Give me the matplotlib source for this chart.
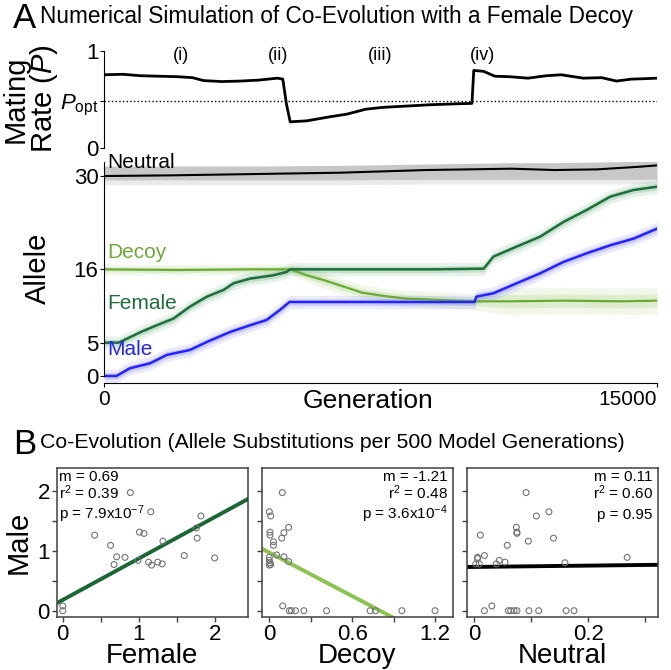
import matplotlib.pyplot as plt
import numpy as np

plt.rcParams['font.family'] = ['Liberation Sans', 'DejaVu Sans']
plt.rcParams['mathtext.fontset'] = 'custom'
plt.rcParams['mathtext.rm'] = 'Liberation Sans'
plt.rcParams['mathtext.it'] = 'Liberation Sans:italic'

# ---- panel A, mating rate ----
mate_gen = [0, 500, 1000, 1500, 2000, 2400, 2700, 3200, 3700, 4200, 4700, 4850, 4950, 5050,
            5500, 6100, 6600, 7100, 7600, 8100, 8800, 9500, 9980, 10030, 10300, 10600, 11000,
            11500, 12000, 12400, 13000, 13500, 13900, 14300, 14700, 15000]
mate = [0.755, 0.76, 0.745, 0.74, 0.735, 0.725, 0.695, 0.685, 0.69, 0.70, 0.72, 0.71, 0.45, 0.27,
        0.28, 0.32, 0.35, 0.40, 0.42, 0.43, 0.445, 0.455, 0.46, 0.80, 0.79, 0.74, 0.735,
        0.72, 0.745, 0.755, 0.72, 0.725, 0.69, 0.71, 0.715, 0.72]
popt = 0.48
phase_gen = [2100, 4720, 7480, 10280]
phase_lab = ['(i)', '(ii)', '(iii)', '(iv)']

# ---- panel A, alleles ----
female_gen = [0, 400, 1000, 1430, 1880, 2330, 2790, 3240, 3510, 3960, 4590, 4950, 5050, 7000,
              9000, 10300, 10560, 11190, 11830, 12460, 13090, 13730, 14360, 15000]
female = [5.0, 5.0, 6.6, 7.6, 8.6, 10.4, 11.9, 12.9, 13.9, 14.6, 15.1, 15.6, 16.0, 16.0,
          16.0, 16.1, 17.9, 19.4, 20.9, 23.1, 24.9, 26.9, 27.9, 28.4]

male_gen = [0, 340, 700, 1250, 1700, 2330, 2790, 3420, 3960, 4410, 4770, 5030, 7000, 10050,
            10100, 10560, 11190, 11830, 12460, 13090, 13730, 14360, 15000]
male = [0.0, 0.0, 1.15, 1.9, 3.15, 3.9, 5.1, 6.6, 7.6, 8.4, 9.9, 11.1, 11.1, 11.1,
        11.9, 12.4, 13.9, 15.4, 17.1, 18.4, 19.6, 20.6, 22.1]

decoy_gen = [0, 2000, 4000, 5050, 5500, 5950, 6400, 7000, 7600, 8200, 8750, 9900, 11000,
             12500, 14000, 15000]
decoy = [16.0, 15.9, 16.0, 16.0, 15.1, 14.4, 13.6, 12.5, 12.0, 11.6, 11.5, 11.2, 11.2,
         11.3, 11.2, 11.3]
decoy_spread = [0.8, 0.8, 0.8, 0.8, 1.0, 1.2, 1.2, 1.2, 1.2, 1.2, 1.2, 1.2, 2.0, 2.0, 2.0, 2.0]

neutral_gen = [0, 1800, 4100, 6400, 8750, 9900, 11060, 12220, 13380, 14540, 15000]
neutral = [30.0, 30.1, 30.3, 30.5, 30.9, 31.0, 31.1, 30.9, 31.0, 31.4, 31.6]
neutral_lo = [29.4, 29.4, 29.4, 29.4, 29.5, 29.5, 29.5, 29.5, 29.5, 29.5, 29.5]
neutral_hi = [31.5, 31.5, 31.5, 31.6, 31.8, 31.9, 32.0, 32.0, 32.1, 32.2, 32.2]

# ---- panel B, substitutions per 500 generations ----
fem_x = [0, 0, 0.42, 0.63, 0.675, 0.71, 0.82, 0.89, 0.99, 1.01, 1.07, 1.13, 1.17, 1.16,
         1.25, 1.31, 1.32, 1.60, 1.76, 1.77, 1.82, 2.0]
fem_y = [0.08, 0, 1.26, 1.09, 0.77, 0.90, 0.89, 1.97, 0.84, 1.31, 1.29, 0.81, 0.76, 1.65,
         0.81, 0.78, 1.16, 0.92, 1.38, 1.21, 1.58, 0.88]

dec_x = [0.094, 0, 0.01, 0.14, 0.005, 0.005, 0.106, 0.09, 0.03, 0.03, 0.053, 0.106, 0.14,
         0, 0, 0.005, 0.01, 0, 0.097, 0.145, 0.16, 0.19, 0.25, 0.415, 0.73, 0.77, 0.96, 1.20]
dec_y = [1.97, 1.65, 1.58, 1.39, 1.31, 1.26, 1.30, 1.21, 1.15, 1.09, 0.93, 0.90, 0.82,
         0.89, 0.84, 0.80, 0.77, 0.76, 0.08, 0, 0, 0, 0, 0, 0, 0, 0, 0]

neu_x = [0.091, 0.131, 0.109, 0.074, 0.075, 0.075, 0.011, 0.139, 0.095, 0.058, 0.018, 0.006,
         0.006, 0.044, 0.054, 0.039, 0.003, 0.009, 0.159, 0.268, 0.031, 0.018, 0.06, 0.064,
         0.07, 0.075, 0.096, 0.113, 0.161, 0.175]
neu_y = [1.97, 1.65, 1.58, 1.39, 1.31, 1.29, 1.26, 1.21, 1.16, 1.09, 0.92, 0.89, 0.87,
         0.84, 0.81, 0.78, 0.78, 0.78, 0.80, 0.89, 0.08, 0, 0, 0, 0, 0, 0, 0, 0, 0]

fit_slope = [0.69, -1.21, 0.11]
fit_icpt = [0.18, 0.97, 0.73]
stats = [['m = 0.69', r'r$^2$ = 0.39', r'p = 7.9x10$^{-7}$'],
         ['m = -1.21', r'r$^2$ = 0.48', r'p = 3.6x10$^{-4}$'],
         ['m = 0.11', r'r$^2$ = 0.60', 'p = 0.95']]
xnames = ['Female', 'Decoy', 'Neutral']

W, H = 671.0, 670.0


def box(l, t, r, b):
    return [l / W, 1 - b / H, (r - l) / W, (b - t) / H]


fig = plt.figure(figsize=(6.71, 6.70), dpi=100)

fig.text(36 / W, 1 - 18 / H, 'A', fontsize=25, ha='right', va='center')
fig.text(40 / W, 1 - 16 / H, 'Numerical Simulation of Co-Evolution with a Female Decoy',
         fontsize=16.3, ha='left', va='center')
fig.text(36 / W, 1 - 444 / H, 'B', fontsize=25, ha='right', va='center')
fig.text(40 / W, 1 - 442 / H, 'Co-Evolution (Allele Substitutions per 500 Model Generations)',
         fontsize=15.3, ha='left', va='center')

# mating rate
ax1 = fig.add_axes(box(104, 51, 657, 148))
ax1.plot(mate_gen, mate, color='k', lw=2)
ax1.axhline(popt, color='k', ls=':', lw=1)
ax1.set_xlim(0, 15000)
ax1.set_ylim(0, 1)
for s in ['top', 'right', 'bottom']:
    ax1.spines[s].set_visible(False)
ax1.set_xticks([])
ax1.set_yticks([0, popt, 1])
ax1.set_yticklabels(['0', r'$P_{\rm opt}$', '1'])
ax1.tick_params(axis='y', length=3, pad=1, labelsize=16)
for g, lab in zip(phase_gen, phase_lab):
    ax1.text(g, 0.95, lab, ha='center', va='center', fontsize=13)
fig.text(31 / W, 1 - 99 / H, 'Mating\nRate ($P$)', rotation=90, ha='center', va='center',
         fontsize=21, linespacing=0.92, multialignment='center')

# alleles
ax2 = fig.add_axes(box(104, 161.7, 657, 383.3))
ax2.fill_between(neutral_gen, neutral_lo, neutral_hi, color='0.6', alpha=0.55, lw=0)
ax2.fill_between(neutral_gen, np.array(neutral_lo) - 0.7, neutral_lo, color='0.8', alpha=0.4, lw=0)
series = [(decoy_gen, decoy, decoy_spread, '#8cc45a'),
          (female_gen, female, [1.0] * len(female), '#3c9a58'),
          (male_gen, male, [1.0] * len(male), '#5050ff')]
for gen, val, spr, band in series:
    v = np.array(val)
    sp = np.array(spr)
    ax2.fill_between(gen, v - sp, v + sp, color=band, alpha=0.12, lw=0)
    ax2.fill_between(gen, v - sp / 2, v + sp / 2, color=band, alpha=0.2, lw=0)
ax2.plot(neutral_gen, neutral, color='k', lw=1.5)
ax2.plot(decoy_gen, decoy, color='#6aaa35', lw=1.6)
ax2.plot(female_gen, female, color='#1e6e3c', lw=1.8)
ax2.plot(male_gen, male, color='#2323ff', lw=1.8)
ax2.set_xlim(0, 15000)
ax2.set_ylim(-1.1, 32.15)
for s in ['top', 'right']:
    ax2.spines[s].set_visible(False)
ax2.spines['left'].set_bounds(0, 32.15)
ax2.set_yticks([0, 5, 16, 30])
ax2.set_xticks([0, 15000])
ax2.set_xticklabels(['0', '15000'])
ax2.get_xticklabels()[1].set_horizontalalignment('right')
ax2.tick_params(axis='y', length=3, pad=1, labelsize=16)
ax2.tick_params(axis='x', length=3, pad=2, labelsize=15)
ax2.text(80, 32.0, 'Neutral', color='k', fontsize=15, va='center', ha='left')
ax2.text(80, 18.6, 'Decoy', color='#6aaa35', fontsize=15, va='center', ha='left')
ax2.text(80, 10.9, 'Female', color='#1e6e3c', fontsize=15, va='center', ha='left')
ax2.text(80, 3.9, 'Male', color='#2323ff', fontsize=15, va='center', ha='left')
fig.text(38 / W, 1 - 268 / H, 'Allele', rotation=90, ha='center', va='center', fontsize=21)
fig.text(368 / W, 1 - 401 / H, 'Generation', ha='center', va='center', fontsize=19)

# panel B
lefts = [56.7, 261.7, 466.7]
xlims = [(-0.08, 2.44), (-0.055, 1.33), (-0.013, 0.322)]
xmaj = [[0, 1, 2], [0, 0.6, 1.2], [0, 0.2]]
xmaj_lab = [['0', '1', '2'], ['0', '0.6', '1.2'], ['0', '0.2']]
xmin = [[0.5, 1.5], [0.3, 0.9], [0.1, 0.3]]
xs = [fem_x, dec_x, neu_x]
ys = [fem_y, dec_y, neu_y]
line_cols = ['#1a6634', '#8dc44e', 'k']
for i in range(3):
    ax = fig.add_axes(box(lefts[i], 468, lefts[i] + 191.3, 616.7))
    ax.scatter(xs[i], ys[i], s=18, facecolors='none', edgecolors='0.45', linewidths=0.8, zorder=3)
    xl = np.array(xlims[i])
    ax.plot(xl, fit_icpt[i] + fit_slope[i] * xl, color=line_cols[i], lw=2.8, zorder=2)
    ax.set_xlim(*xlims[i])
    ax.set_ylim(-0.1, 2.38)
    ax.set_xticks(xmaj[i])
    ax.set_xticklabels(xmaj_lab[i])
    ax.set_xticks(xmin[i], minor=True)
    ax.set_yticks([0, 1, 2])
    ax.set_yticks([0.5, 1.5], minor=True)
    if i == 0:
        ax.set_yticklabels(['0', '1', '2'])
        ax.set_ylabel('Male', fontsize=21, labelpad=3)
    else:
        ax.set_yticklabels([])
    ax.tick_params(which='both', length=3.5, width=1, color='0.25', labelsize=16, pad=1.5)
    for s in ax.spines.values():
        s.set_color('0.25')
        s.set_linewidth(1.1)
    ax.set_xlabel(xnames[i], fontsize=20, labelpad=-1)
    if i == 0:
        tx, ha = 0.014, 'left'
    else:
        tx, ha = 0.972, 'right'
    for k, yy in enumerate([0.91, 0.79, 0.66]):
        ax.text(tx, yy, stats[i][k], transform=ax.transAxes, ha=ha, va='baseline', fontsize=11)

fig.savefig('out.png', dpi=100)
